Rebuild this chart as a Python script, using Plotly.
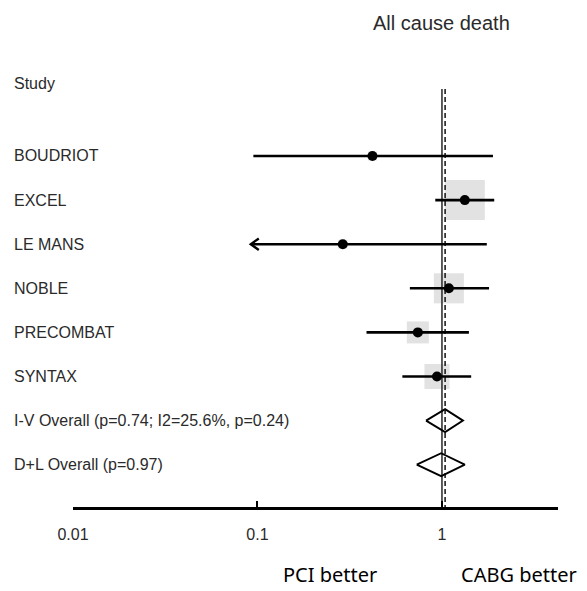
import numpy as np
import plotly.graph_objects as go

# Individual trials: hazard ratio with 95% CI and relative weight (%)
studies = ["BOUDRIOT", "EXCEL", "LE MANS", "NOBLE", "PRECOMBAT", "SYNTAX"]
hr = [0.42, 1.33, 0.29, 1.09, 0.74, 0.94]
lci = [0.095, 0.92, 0.092, 0.67, 0.39, 0.61]
uci = [1.89, 1.92, 1.75, 1.80, 1.40, 1.44]
weight = [2.1, 42.4, 2.1, 23.9, 12.8, 16.6]
lci_clipped = [False, False, True, False, False, False]

# Pooled estimates
pooled_labels = ["I-V Overall (p=0.74; I2=25.6%, p=0.24)", "D+L Overall (p=0.97)"]
pooled_hr = [1.04, 0.99]
pooled_lci = [0.82, 0.73]
pooled_uci = [1.30, 1.33]

tick_vals = [0.01, 0.1, 1]
tick_text = ["0.01", "0.1", "1"]

title_text = "All cause death"
header_text = "Study"
left_note = "PCI better"
right_note = "CABG better"

W, H = 587, 591
LABEL_FONT = "Liberation Sans, Arial, sans-serif"
NOTE_FONT = "Noto Sans, Open Sans, sans-serif"
TXT = "#2a2a2a"

n = len(studies)
study_rows = list(range(n))
pooled_rows = [n + i for i in range(len(pooled_labels))]
y_top, y_bottom = -3.537, 7.959
ref_top = -1.52

fig = go.Figure()

# weight boxes
fig.add_trace(go.Scatter(
    x=hr, y=study_rows, mode="markers",
    marker=dict(symbol="square", color="#d6d6d6",
                size=[6.15 * np.sqrt(w) for w in weight], line=dict(width=0)),
    hoverinfo="skip"))

# null line and pooled-estimate line
fig.add_trace(go.Scatter(x=[1, 1], y=[ref_top, y_bottom], mode="lines",
                         line=dict(color="#333333", width=1.6), hoverinfo="skip"))
fig.add_trace(go.Scatter(x=[pooled_hr[0]] * 2, y=[ref_top, y_bottom], mode="lines",
                         line=dict(color="#111111", width=1.5, dash="5px,3px"),
                         hoverinfo="skip"))

# confidence intervals
cx, cy = [], []
for r, lo, hi in zip(study_rows, lci, uci):
    cx += [lo, hi, None]
    cy += [r, r, None]
fig.add_trace(go.Scatter(x=cx, y=cy, mode="lines",
                         line=dict(color="black", width=2.6), hoverinfo="skip"))

# arrowheads where the interval runs past the displayed range
ax_, ay_ = [], []
wing = 10 ** (8 / 184.5)
for r, lo, clip in zip(study_rows, lci, lci_clipped):
    if clip:
        ax_ += [lo * wing, lo, lo * wing, None]
        ay_ += [r - 0.13, r, r + 0.13, None]
fig.add_trace(go.Scatter(x=ax_, y=ay_, mode="lines",
                         line=dict(color="black", width=2.4), hoverinfo="skip"))

# point estimates
fig.add_trace(go.Scatter(x=hr, y=study_rows, mode="markers",
                         marker=dict(symbol="circle", color="black", size=10),
                         hoverinfo="skip"))

# pooled diamonds
dx, dy = [], []
for r, es, lo, hi in zip(pooled_rows, pooled_hr, pooled_lci, pooled_uci):
    dx += [lo, es, hi, es, lo, None]
    dy += [r, r - 0.26, r, r + 0.26, r, None]
fig.add_trace(go.Scatter(x=dx, y=dy, mode="lines",
                         line=dict(color="black", width=1.9), hoverinfo="skip"))

annotations = []
label_x = 12 / W
for r, name in zip(study_rows + pooled_rows, studies + pooled_labels):
    annotations.append(dict(x=label_x, xref="paper", y=r, yref="y", text=name,
                            showarrow=False, xanchor="left", yanchor="middle",
                            font=dict(family=LABEL_FONT, size=16, color=TXT)))
annotations.append(dict(x=label_x, xref="paper", y=-1.655, yref="y", text=header_text,
                        showarrow=False, xanchor="left", yanchor="middle",
                        font=dict(family=LABEL_FONT, size=16, color=TXT)))
# log axis: annotation x is given as log10 of the value
annotations.append(dict(x=np.log10(1), xref="x", y=-3.01, yref="y", text=title_text,
                        showarrow=False, xanchor="center", yanchor="middle",
                        font=dict(family=LABEL_FONT, size=20, color=TXT)))
annotations.append(dict(x=330 / W, xref="paper", y=-0.134, yref="paper", text=left_note,
                        showarrow=False, xanchor="center", yanchor="middle",
                        font=dict(family=NOTE_FONT, size=20, color="black")))
annotations.append(dict(x=519 / W, xref="paper", y=-0.134, yref="paper", text=right_note,
                        showarrow=False, xanchor="center", yanchor="middle",
                        font=dict(family=NOTE_FONT, size=20, color="black")))

fig.update_layout(
    width=W, height=H,
    margin=dict(l=0, r=0, t=0, b=84, autoexpand=False),
    paper_bgcolor="white", plot_bgcolor="white",
    showlegend=False,
    annotations=annotations,
    xaxis=dict(type="log", range=[-2, 0.629], domain=[73 / W, 558 / W],
               automargin=False,
               showline=True, linecolor="black", linewidth=3,
               ticks="inside", ticklen=6, tickwidth=2, tickcolor="black",
               tickvals=tick_vals, ticktext=tick_text, ticklabelstandoff=11,
               tickfont=dict(family=LABEL_FONT, size=16, color=TXT),
               showgrid=False, zeroline=False, fixedrange=True),
    yaxis=dict(range=[y_bottom, y_top], visible=False, fixedrange=True,
               automargin=False),
)

fig.write_html("out.html")
